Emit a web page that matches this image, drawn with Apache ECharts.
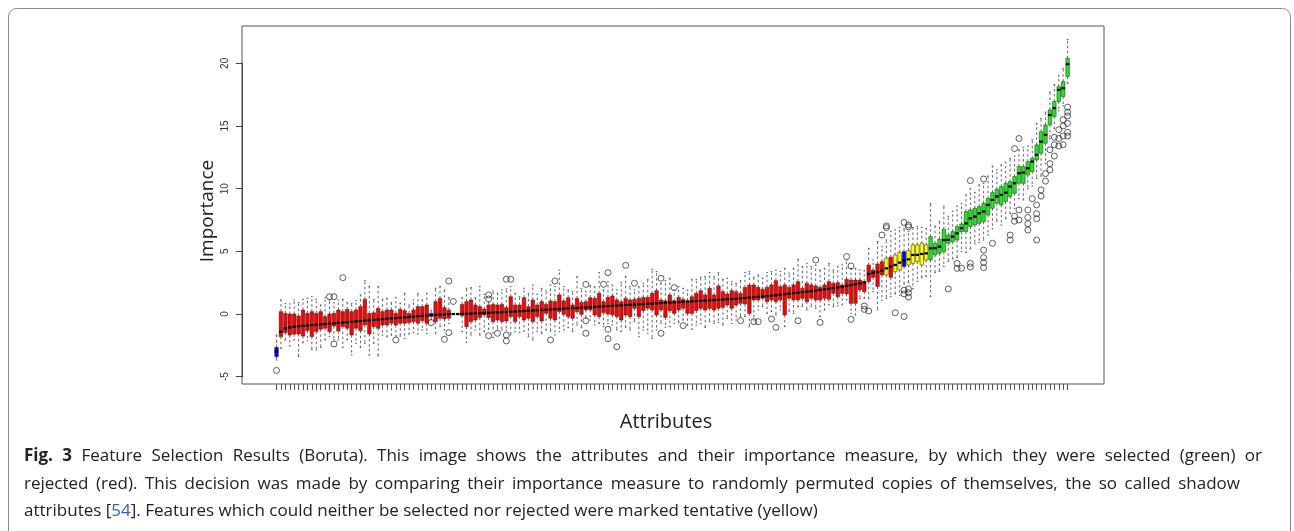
<!DOCTYPE html>
<html><head><meta charset="utf-8">
<script src="https://cdn.jsdelivr.net/npm/echarts@6/dist/echarts.min.js"></script>
<style>html,body{margin:0;padding:0;background:#fff}#c{width:1294px;height:531px}</style>
</head><body><div id="c"></div>
<script>
// Boruta importance boxplots, one per attribute (sorted by median importance)
const LOWER = [
-3.67,-2.74,-2.07,-2.55,-2.07,-3.40,-2.29,-2.13,-2.82,-2.87,
-2.66,-2.07,-1.81,-2.07,-2.07,-2.66,-2.07,-3.27,-2.34,-2.66,
-2.34,-3.27,-2.34,-3.35,-1.68,-1.81,-1.68,-1.76,-1.76,-1.94,
-1.60,-1.49,-1.60,-1.28,-1.54,-0.45,-1.54,-1.01,-1.28,-0.74,
0,0,-1.41,-2.26,-1.67,-1.28,-1.67,-1.41,-1.20,-1.89,
-1.20,-1.28,-1.30,-1.67,-1.41,-1.46,-1.36,-1.81,-2.07,-1.36,
-1.54,-1.28,-1.36,-1.67,-1.41,-1.28,-1.09,-1.41,-0.88,-1.09,
-0.35,-0.48,-0.88,-0.75,-1.01,-0.75,-0.88,-1.28,-1.41,-1.06,
-1.28,-0.61,-1.81,-1.28,-1.54,-1.94,-1.28,-0.75,-1.06,-1.01,
-0.75,-0.69,-0.48,-0.88,-1.22,-0.88,-0.75,-1.06,-0.61,-0.75,
-0.69,-0.88,-0.35,-0.75,-0.48,-0.21,-0.21,-1.01,-0.48,0.32,
0.59,0.05,0.19,-0.08,0.32,-1.01,0.19,0.05,0.59,0.59,
0.32,0.59,0.45,-0.21,0.32,0.72,0.59,0.64,0.72,1.12,
0.05,-0.08,1.25,1.25,1.25,1.78,0.32,1.10,1.25,1.38,
1.60,1.50,2.40,2.50,2.00,2.60,2.90,3.00,1.40,3.30,
3.40,3.80,4.20,4.40,4.50,5.00,4.90,5.20,5.60,5.70,
5.90,6.30,6.80,7.40,7.10,7.60,8.00,8.40,9.20,9.10,
10.00,10.20,10.80,11.00,12.00,14.00,14.80,16.20,16.60,18.40];
const Q1 = [
-3.41,-1.81,-1.49,-1.68,-1.60,-1.60,-1.76,-1.33,-1.81,-1.41,
-1.22,-1.14,-1.41,-0.96,-1.36,-1.01,-1.14,-1.68,-1.14,-1.33,
-0.88,-1.60,-1.01,-1.14,-0.88,-0.88,-0.74,-0.88,-0.74,-0.74,
-0.69,-0.61,-0.74,-0.53,-0.74,-0.20,-0.61,-0.34,-0.40,-0.34,
0,0,-0.13,-1.01,-0.61,-0.48,-0.29,-0.08,-0.29,-0.61,
-0.48,-0.61,-0.56,-0.21,-0.61,-0.21,-0.48,-0.34,-0.61,-0.21,
-0.56,0.05,-0.34,-0.48,0.19,-0.03,-0.21,-0.34,0.19,-0.03,
0.32,0.32,-0.08,-0.21,0.11,0.00,-0.08,-0.21,-0.48,-0.08,
-0.21,0.45,-0.21,0.27,0.45,0.32,-0.08,0.32,-0.27,0.27,
0.05,0.32,0.45,0.05,0.05,0.27,0.45,0.32,0.45,0.32,
0.45,0.53,0.72,0.45,0.72,0.85,0.80,0.05,1.12,1.12,
1.25,0.98,1.12,0.98,1.12,-0.08,1.25,1.12,1.12,1.25,
0.98,1.25,1.12,1.12,1.25,1.17,1.65,1.38,1.65,1.60,
0.85,0.85,1.92,1.78,2.58,2.92,2.19,3.11,3.11,2.92,
3.38,3.51,3.78,3.91,4.04,4.18,3.91,4.31,4.31,4.71,
4.84,4.97,5.64,5.77,5.90,6.57,6.57,6.97,7.10,7.23,
7.36,7.90,8.43,8.83,8.70,8.97,9.37,9.63,10.43,10.43,
11.09,11.36,12.29,12.82,13.62,15.08,15.75,16.95,17.35,18.94];
const MEDIAN = [
-3.00,-1.42,-1.15,-1.08,-1.02,-0.98,-0.95,-0.92,-0.90,-0.86,
-0.83,-0.80,-0.77,-0.74,-0.71,-0.68,-0.65,-0.62,-0.59,-0.56,
-0.53,-0.50,-0.47,-0.44,-0.41,-0.38,-0.35,-0.33,-0.30,-0.27,
-0.24,-0.21,-0.18,-0.15,-0.12,-0.08,-0.06,-0.04,-0.03,-0.01,
0,0,0.01,0.02,0.03,0.05,0.06,0.08,0.09,0.11,
0.12,0.14,0.16,0.18,0.20,0.22,0.24,0.26,0.28,0.30,
0.32,0.34,0.36,0.38,0.40,0.42,0.44,0.46,0.48,0.50,
0.52,0.55,0.57,0.59,0.61,0.63,0.65,0.67,0.69,0.71,
0.73,0.75,0.77,0.79,0.81,0.83,0.85,0.87,0.89,0.91,
0.93,0.95,0.97,0.99,1.01,1.03,1.05,1.07,1.09,1.11,
1.13,1.15,1.17,1.20,1.22,1.25,1.28,1.31,1.34,1.37,
1.40,1.43,1.46,1.50,1.54,1.58,1.62,1.66,1.70,1.74,
1.78,1.82,1.87,1.92,1.97,2.02,2.07,2.12,2.18,2.24,
2.30,2.37,2.44,2.52,3.19,3.30,3.35,3.46,3.64,3.78,
3.91,4.10,4.26,4.36,4.71,4.72,4.79,4.84,5.24,5.25,
5.37,5.90,5.91,6.17,6.44,6.84,7.23,7.63,7.77,8.03,
8.17,8.70,9.10,9.37,9.50,9.68,10.17,10.43,11.23,11.28,
11.62,12.16,12.69,13.75,14.29,15.88,16.42,17.88,18.01,19.93];
const Q3 = [
-2.66,0.19,0.05,0.00,0.00,-0.16,0.32,0.05,0.19,0.05,
0.19,-0.21,0.00,0.05,0.32,0.19,0.37,0.19,0.32,0.59,
1.17,0.05,0.10,0.45,0.19,0.32,0.32,0.05,0.37,0.27,
0.05,0.32,0.59,0.59,0.72,0.05,0.99,1.25,0.51,0.32,
0,0,0.77,0.99,1.12,0.72,0.59,0.40,0.72,0.77,
0.72,0.77,0.51,1.38,0.72,0.72,1.30,0.59,1.12,0.72,
0.99,0.77,1.04,0.99,1.52,1.04,1.30,0.72,1.25,0.93,
0.99,1.30,1.25,1.65,0.98,1.33,1.44,1.12,0.98,1.25,
1.12,1.17,1.25,1.33,1.33,1.65,1.86,1.12,1.06,1.52,
1.06,1.33,1.17,1.06,1.38,1.65,1.86,1.52,2.05,1.52,
2.24,1.78,1.60,1.86,1.78,1.65,2.13,2.31,2.31,2.13,
1.97,2.13,2.32,2.66,2.18,2.32,2.13,2.32,2.58,2.05,
2.45,2.32,2.24,2.13,2.32,2.58,2.45,2.50,2.31,2.77,
2.71,2.71,2.71,2.58,3.91,3.51,3.99,4.18,4.45,4.53,
4.71,4.90,4.98,5.06,5.51,5.51,5.64,5.51,6.17,5.64,
5.96,6.76,6.30,6.57,6.97,7.18,8.17,8.30,8.43,8.57,
8.83,9.23,9.68,9.95,10.16,10.42,10.56,10.96,11.76,11.76,
12.16,12.42,13.49,14.55,15.08,16.28,16.95,18.14,18.54,20.40];
const UPPER = [
-1.68,1.12,0.85,0.80,1.12,0.90,1.17,1.25,1.38,1.17,
0.72,1.33,1.12,0.90,1.12,1.17,0.90,0.85,1.07,1.52,
2.66,2.18,1.17,2.18,1.17,1.25,0.90,1.33,0.85,1.65,
0.72,1.12,1.65,1.12,1.65,0.30,2.05,2.18,1.92,1.30,
0,0,1.30,2.05,2.10,1.30,2.18,1.57,0.95,1.84,
1.65,1.92,2.00,2.18,1.65,1.38,2.05,1.65,2.31,1.57,
2.05,1.84,2.31,2.18,3.51,2.18,1.92,1.78,2.98,2.05,
1.80,2.26,2.18,3.30,1.92,2.58,2.31,1.92,2.50,2.98,
2.18,1.92,2.18,2.45,2.77,3.57,3.38,2.45,2.66,2.85,
1.92,2.18,2.05,1.92,2.77,2.77,2.93,2.98,3.30,2.98,
3.30,2.77,2.85,2.58,2.45,2.66,3.30,3.38,2.93,3.11,
2.85,3.30,3.38,3.51,3.38,3.64,3.25,3.64,4.36,3.78,
4.04,3.78,3.91,3.51,3.64,4.04,3.51,3.78,3.91,4.31,
3.64,3.64,3.51,3.46,5.24,4.31,5.77,5.37,5.90,6.60,
6.70,6.90,6.80,6.60,6.90,7.00,6.90,6.80,8.80,7.00,
7.40,8.60,7.80,8.20,8.60,8.80,9.50,10.00,9.70,10.30,
10.40,11.00,11.80,11.50,11.90,12.10,12.40,12.60,13.10,13.30,
13.40,13.90,15.20,15.60,16.10,17.70,18.30,19.00,19.60,21.90];
// S = shadow, R = rejected, T = tentative, C = confirmed
const STATUS =
  "SRRRRRRRRRRRRRRRRRRRRRRRRRRRRRRRRRRSRRRRRR" +
  "RRRRRRRRRRRRRRRRRRRRRRRRRRRRRRRRRRRRRRRRRRRRRRRRRRRRRRRRRRRRRRRRRRRRRRRRRRRRRRRRRRRRRRRRRRRRRRRR" +
  "TRTTSTTTTT" +
  "CCCCCCCCCCCCCCCCCCCCCCCCCCCCCCCCCCCC";
const OUTLIERS = [
[0,-4.5],[12,1.38],[13,1.38],[13,-2.39],[15,2.9],[27,-2.07],[35,-0.69],[38,-2.02],[39,2.63],[39,-1.49],
[40,1.0],[48,1.52],[48,1.2],[48,-1.73],[50,-1.54],[52,2.77],[52,-1.68],[52,-2.15],[53,2.77],[62,-2.07],
[63,2.63],[70,2.36],[70,-0.53],[70,-1.54],[74,2.37],[75,3.3],[75,-1.22],[75,-1.97],[77,-2.61],[79,3.88],
[81,2.45],[87,2.85],[87,-1.54],[90,2.1],[92,-0.93],[105,-0.53],[108,-0.61],[109,-0.61],[112,-0.4],[113,-1.07],
[118,-0.53],[122,4.31],[123,-0.67],[129,4.58],[130,3.83],[130,-0.43],[133,0.37],[133,0.64],[134,0.24],[137,6.3],
[138,7.02],[138,6.89],[140,0.1],[142,7.3],[142,-0.2],[142,1.9],[142,1.6],[143,7.1],[143,6.95],[143,2.0],
[143,1.7],[143,1.35],[152,2.0],[154,4.04],[154,3.64],[155,3.65],[157,4.04],[157,3.75],[157,10.64],[160,10.77],
[160,5.1],[160,4.5],[160,4.1],[160,3.7],[162,5.64],[166,6.3],[166,5.9],[167,7.4],[167,7.8],[167,13.2],
[168,8.3],[168,7.5],[168,14.0],[170,8.3],[170,7.7],[170,7.2],[170,6.7],[171,9.2],[172,8.7],[172,8.0],
[172,7.6],[172,5.9],[173,9.9],[173,9.4],[174,11.2],[174,10.6],[175,13.1],[175,12.0],[175,11.5],[176,14.1],
[176,13.5],[176,12.6],[177,14.7],[177,14.0],[177,13.4],[178,15.5],[178,15.0],[178,14.2],[178,13.5],[179,16.5],
[179,16.1],[179,15.8],[179,15.2],[179,14.5],[179,14.2]];
const Y_TICKS_MIN = -5, Y_TICKS_MAX = 20, Y_TICK_STEP = 5;
const CATEGORIES = MEDIAN.map((_, i) => 'attr' + (i + 1));
const COLORS = { R: '#ff0000', C: '#1ee81e', T: '#ffff00', S: '#0000ff' };

const CAPTION_1 = 'Fig. 3 Feature Selection Results (Boruta). This image shows the attributes and their importance measure, by which they were selected (green) or';
const CAPTION_2 = 'rejected (red). This decision was made by comparing their importance measure to randomly permuted copies of themselves, the so called shadow';
const CAPTION_3 = 'attributes [{l|54}]. Features which could neither be selected nor rejected were marked tentative (yellow)';

const boxData = MEDIAN.map((m, i) => [i, LOWER[i], Q1[i], m, Q3[i], UPPER[i]]);

function renderBox(params, api) {
  const i = api.value(0);
  const x = api.coord([i, 0])[0];
  const w = api.size([1, 0])[0] * 0.8;
  const yLo = api.coord([i, api.value(1)])[1];
  const yQ1 = api.coord([i, api.value(2)])[1];
  const yMed = api.coord([i, api.value(3)])[1];
  const yQ3 = api.coord([i, api.value(4)])[1];
  const yHi = api.coord([i, api.value(5)])[1];
  const color = COLORS[STATUS[params.dataIndex]];
  const dash = { stroke: '#555', lineWidth: 0.9, lineDash: [2.5, 2.5] };
  const solid = { stroke: '#555', lineWidth: 1 };
  const sw = w * 0.45;
  const children = [];
  if (yHi < yQ3) {
    children.push({ type: 'line', shape: { x1: x, y1: yQ3, x2: x, y2: yHi }, style: dash });
    children.push({ type: 'line', shape: { x1: x - sw / 2, y1: yHi, x2: x + sw / 2, y2: yHi }, style: solid });
  }
  if (yLo > yQ1) {
    children.push({ type: 'line', shape: { x1: x, y1: yQ1, x2: x, y2: yLo }, style: dash });
    children.push({ type: 'line', shape: { x1: x - sw / 2, y1: yLo, x2: x + sw / 2, y2: yLo }, style: solid });
  }
  if (yQ1 - yQ3 > 0.1) {
    children.push({ type: 'rect', shape: { x: x - w / 2, y: yQ3, width: w, height: yQ1 - yQ3 },
      style: { fill: color, stroke: '#222', lineWidth: 0.5 } });
  }
  children.push({ type: 'line', shape: { x1: x - w / 2, y1: yMed, x2: x + w / 2, y2: yMed },
    style: { stroke: '#000', lineWidth: 2.2 } });
  return { type: 'group', children };
}

// caption: justified lines laid out word by word
const CAP_FONT_SIZE = 17, CAP_FAMILY = 'Open Sans', CAP_COLOR = '#222';
const measureCtx = document.createElement('canvas').getContext('2d');
function measure(word, bold) {
  measureCtx.font = (bold ? 'bold ' : '') + CAP_FONT_SIZE + 'px "' + CAP_FAMILY + '"';
  return measureCtx.measureText(word).width;
}
function justified(line, left, right, y, boldCount) {
  const words = line.split(' ');
  const widths = words.map((w, k) => measure(w, k < boldCount));
  const total = widths.reduce((a, b) => a + b, 0);
  const gap = (right - left - total) / (words.length - 1);
  let x = left;
  return words.map((w, k) => {
    const el = { type: 'text', silent: true, style: { text: w, x: x, y: y, textVerticalAlign: 'middle',
      fontFamily: CAP_FAMILY, fontSize: CAP_FONT_SIZE, fontWeight: k < boldCount ? 'bold' : 'normal', fill: CAP_COLOR } };
    x += widths[k] + gap;
    return el;
  });
}

const chart = echarts.init(document.getElementById('c'), null, { renderer: 'canvas' });
chart.setOption({
  animation: false,
  backgroundColor: '#fff',
  grid: [
    { left: 274.3, right: 224.2, top: 26, bottom: 147 },
    { left: 242, right: 190, top: 26, bottom: 147, show: true, borderColor: '#555', borderWidth: 1, backgroundColor: 'transparent' },
    { left: 242, right: 190, top: 63.33, bottom: 154.33 }
  ],
  xAxis: [
    { type: 'category', gridIndex: 0, data: CATEGORIES, boundaryGap: true, position: 'bottom',
      axisLine: { show: false, onZero: false },
      axisTick: { show: true, alignWithLabel: true, interval: 0, length: 6, lineStyle: { color: '#555', width: 1 } },
      axisLabel: { show: false }, splitLine: { show: false } },
    { type: 'value', gridIndex: 1, show: false },
    { type: 'value', gridIndex: 2, show: false }
  ],
  yAxis: [
    { type: 'value', gridIndex: 0, min: -5.584, max: 22.974, show: false },
    { type: 'value', gridIndex: 1, min: 0, max: 1, show: true,
      axisLine: { show: false }, axisTick: { show: false }, axisLabel: { show: false }, splitLine: { show: false },
      name: 'Importance', nameLocation: 'middle', nameGap: 25, nameRotate: 90,
      nameTextStyle: { fontFamily: 'Open Sans', fontSize: 19, color: '#222', padding: [0, 12, 0, 0] } },
    { type: 'value', gridIndex: 2, min: Y_TICKS_MIN, max: Y_TICKS_MAX, interval: Y_TICK_STEP,
      axisLine: { show: true, onZero: false, lineStyle: { color: '#444', width: 1 } },
      axisTick: { show: true, length: 6, lineStyle: { color: '#444', width: 1 } },
      axisLabel: { show: true, rotate: 90, margin: 12, fontFamily: 'Liberation Sans', fontSize: 10, color: '#333' },
      splitLine: { show: false } }
  ],
  series: [
    { type: 'custom', xAxisIndex: 0, yAxisIndex: 0, renderItem: renderBox,
      encode: { x: 0, y: [1, 2, 3, 4, 5] }, data: boxData, silent: true },
    { type: 'scatter', xAxisIndex: 0, yAxisIndex: 0, data: OUTLIERS, symbol: 'circle', symbolSize: 6,
      itemStyle: { color: 'rgba(0,0,0,0)', borderColor: '#222', borderWidth: 0.9 }, silent: true }
  ],
  graphic: [
    { type: 'rect', shape: { x: 8.5, y: 8.5, width: 1282, height: 700, r: 8 },
      style: { fill: 'none', stroke: '#8a8a8a', lineWidth: 1 }, silent: true },
    { type: 'text', style: { text: 'Attributes', x: 666, y: 422, textAlign: 'center', textVerticalAlign: 'middle',
      fontFamily: 'Open Sans', fontSize: 20, fill: '#222' } },
    ...justified(CAPTION_1, 24, 1262, 456, 2),
    ...justified(CAPTION_2, 24, 1240, 484, 0),
    { type: 'text', style: { x: 24, y: 511, textVerticalAlign: 'middle', fontFamily: CAP_FAMILY, fontSize: CAP_FONT_SIZE, fill: CAP_COLOR,
      text: CAPTION_3,
      rich: { l: { fill: '#2f5fd0', fontFamily: CAP_FAMILY, fontSize: CAP_FONT_SIZE } } } }
  ]
});
</script></body></html>
